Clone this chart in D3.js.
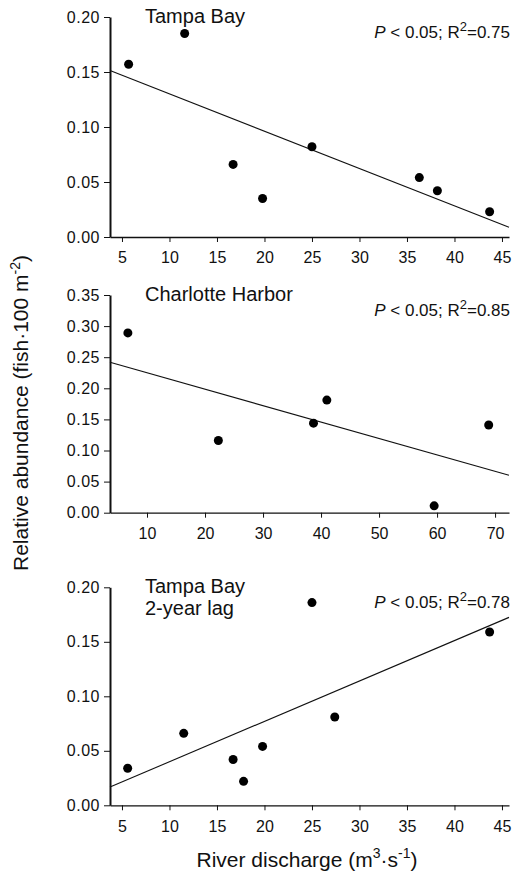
<!DOCTYPE html>
<html lang="en">
  <head>
    <meta charset="UTF-8" />
    <title>Relative abundance vs river discharge</title>
    <style>
      body { margin: 0; background: #fff; }
      svg text { font-family: "Liberation Sans", Arial, sans-serif; fill: #111; }
    </style>
  </head>
  <body>
    <svg id="svg" width="512" height="882"></svg>

    <script src="https://cdn.jsdelivr.net/npm/d3@7"></script>
    <script>
      // values
      const tampaX = [5.7, 11.6, 16.7, 19.8, 25.0, 36.3, 38.2, 43.7];
      const tampaY = [0.157, 0.185, 0.066, 0.035, 0.082, 0.054, 0.042, 0.023];
      const charlotteX = [6.7, 22.3, 38.7, 41.0, 59.5, 68.9];
      const charlotteY = [0.289, 0.116, 0.144, 0.181, 0.011, 0.141];
      const lagX = [5.6, 11.5, 16.7, 17.8, 19.8, 25.0, 27.4, 43.7];
      const lagY = [0.034, 0.066, 0.042, 0.022, 0.054, 0.186, 0.081, 0.159];

      const xTicks45 = [5, 10, 15, 20, 25, 30, 35, 40, 45];
      const xTicks70 = [10, 20, 30, 40, 50, 60, 70];
      const yTicks20 = [0, 0.05, 0.1, 0.15, 0.2];
      const yTicks35 = [0, 0.05, 0.1, 0.15, 0.2, 0.25, 0.3, 0.35];

      const panelTitles = [["Tampa Bay"], ["Charlotte Harbor"], ["Tampa Bay", "2-year lag"]];
      const r2Labels = ["0.75", "0.85", "0.78"];

      const LEFT = 110;
      const RIGHT = 509;

      const panels = [
        { xs: tampaX, ys: tampaY, xDom: [3.74, 45.74], yDom: [0, 0.2], xTicks: xTicks45, yTicks: yTicks20, top: 17, bottom: 237 },
        { xs: charlotteX, ys: charlotteY, xDom: [3.62, 72.4], yDom: [0, 0.35], xTicks: xTicks70, yTicks: yTicks35, top: 295, bottom: 512.7 },
        { xs: lagX, ys: lagY, xDom: [3.74, 45.74], yDom: [0, 0.2], xTicks: xTicks45, yTicks: yTicks20, top: 587.3, bottom: 805.3 },
      ];

      // ordinary least squares fit
      function fit(xs, ys) {
        const mx = d3.mean(xs), my = d3.mean(ys);
        let sxy = 0, sxx = 0;
        xs.forEach((x, i) => {
          sxy += (x - mx) * (ys[i] - my);
          sxx += (x - mx) * (x - mx);
        });
        const b = sxy / sxx;
        return { a: my - b * mx, b: b };
      }

      const svg = d3.select("#svg");

      panels.forEach((p, k) => {
        const x = d3.scaleLinear().domain(p.xDom).range([LEFT, RIGHT]);
        const y = d3.scaleLinear().domain(p.yDom).range([p.bottom, p.top]);
        const g = svg.append("g");

        const xAxis = g
          .append("g")
          .attr("transform", `translate(0, ${p.bottom})`)
          .call(d3.axisBottom(x).tickValues(p.xTicks).tickSize(5).tickSizeOuter(0).tickPadding(10).tickFormat(d3.format("d")));
        xAxis.select(".domain").attr("stroke-width", 1.3);
        xAxis.selectAll("text").attr("font-size", 16).attr("fill", "#111");

        const yAxis = g
          .append("g")
          .attr("transform", `translate(${LEFT}, 0)`)
          .call(d3.axisLeft(y).tickValues(p.yTicks).tickSize(6).tickSizeOuter(0).tickPadding(4).tickFormat(d3.format(".2f")));
        yAxis.select(".domain").attr("stroke-width", 2);
        yAxis.selectAll("text").attr("font-size", 16).attr("letter-spacing", 0.5).attr("fill", "#111");
        g.selectAll(".domain, .tick line").attr("stroke", "#111");

        // regression line
        const f = fit(p.xs, p.ys);
        const line = d3.line().x((d) => x(d)).y((d) => y(f.a + f.b * d));
        g.append("path")
          .attr("d", line(p.xDom))
          .attr("fill", "none")
          .attr("stroke", "#111")
          .attr("stroke-width", 1.1);

        g.append("g")
          .selectAll("circle")
          .data(p.xs.map((v, i) => [v, p.ys[i]]))
          .enter()
          .append("circle")
          .attr("cx", (d) => x(d[0]))
          .attr("cy", (d) => y(d[1]))
          .attr("r", 4.5)
          .attr("fill", "#000");

        // panel title
        const title = g.append("text").attr("x", 145).attr("y", p.top + 6).attr("font-size", 20);
        panelTitles[k].forEach((t, j) => {
          title.append("tspan").attr("x", 145).attr("dy", j === 0 ? 0 : 22).text(t);
        });

        // stats annotation
        const ann = g
          .append("text")
          .attr("x", RIGHT + 1)
          .attr("y", p.top + 21)
          .attr("text-anchor", "end")
          .attr("font-size", 17);
        ann.append("tspan").attr("font-style", "italic").text("P");
        ann.append("tspan").text(" < 0.05; R");
        ann.append("tspan").attr("font-size", 13).attr("dy", -7).text("2");
        ann.append("tspan").attr("dy", 7).text("=" + r2Labels[k]);
      });

      // axis titles
      const yLab = svg
        .append("text")
        .attr("transform", "translate(28, 413) rotate(-90)")
        .attr("text-anchor", "middle")
        .attr("font-size", 21);
      yLab.append("tspan").text("Relative abundance (fish·100 m");
      yLab.append("tspan").attr("font-size", 14).attr("dy", -8).text("-2");
      yLab.append("tspan").attr("dy", 8).text(")");

      const xLab = svg
        .append("text")
        .attr("x", 307)
        .attr("y", 867)
        .attr("text-anchor", "middle")
        .attr("font-size", 21);
      xLab.append("tspan").text("River discharge (m");
      xLab.append("tspan").attr("font-size", 14).attr("dy", -9).text("3");
      xLab.append("tspan").attr("dy", 9).text("·s");
      xLab.append("tspan").attr("font-size", 14).attr("dy", -9).text("-1");
      xLab.append("tspan").attr("dy", 9).text(")");
    </script>
  </body>
</html>
